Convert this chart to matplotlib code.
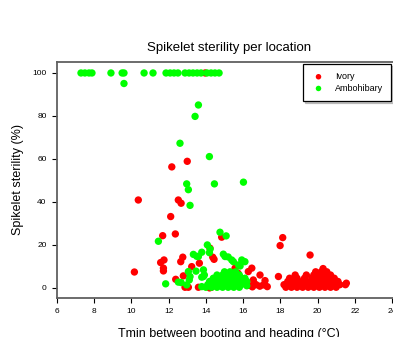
"""
plot.py
Spikelet sterility vs Tmin between booting and heading, two locations
"""

import matplotlib
matplotlib.use("Agg")
import matplotlib.pyplot as plt

# ------------------ DATA ------------------
# Ivory (red)
ivory_x = [
    13.96,
    13.0, 12.17, 10.37, 12.52, 12.67, 12.11, 11.68, 12.36, 14.85, 14.22,
    14.37, 14.44, 11.57, 11.75, 11.72, 11.72, 10.16, 12.38, 12.65, 12.76,
    13.24, 13.65, 12.79, 12.88, 13.06, 12.97, 13.6, 14.2, 14.3, 15.57,
    15.73, 16.28, 16.47, 16.55, 16.91, 17.18, 17.9, 18.13, 17.99, 19.6,
    16.3, 16.5, 16.7, 16.9, 17.1, 17.3, 16.6,
    18.3, 18.6, 18.9, 19.2, 19.5, 19.8, 20.1, 20.4, 20.7, 21.0,
    18.2, 18.5, 18.8, 19.1, 19.4, 19.7, 20.0, 20.3, 20.6, 20.9, 21.2, 21.5,
    18.4, 18.7, 19.0, 19.3, 19.6, 19.9, 20.2, 20.5, 20.8, 21.1,
    18.5, 18.9, 19.3, 19.7, 20.0, 20.3, 20.6, 20.9,
    18.8, 19.4, 19.8, 20.1, 20.4, 20.7,
    19.9, 20.2, 20.5,
    20.3, 21.55,
]
ivory_y = [
    100,
    58.9, 56.3, 40.9, 40.9, 39.4, 33.2, 24.3, 25.1, 23.6, 18.5,
    14.3, 13.3, 11.8, 13.0, 9.2, 7.9, 7.4, 4.0, 12.2, 14.3,
    9.9, 11.5, 5.6, 0.3, 0.3, 0.8, 0.3, 0.0, 0.3, 9.2,
    6.8, 7.6, 9.2, 3.7, 6.0, 3.4, 5.3, 23.4, 19.7, 15.3,
    1.2, 0.5, 1.5, 0.8, 1.4, 0.6, 2.0,
    0.3, 0.3, 0.3, 0.3, 0.3, 0.3, 0.3, 0.3, 0.3, 0.3,
    1.5, 1.5, 1.5, 1.5, 1.5, 1.5, 1.5, 1.5, 1.5, 1.5, 1.5, 1.5,
    3.0, 3.0, 3.0, 3.0, 3.0, 3.0, 3.0, 3.0, 3.0, 3.0,
    4.5, 4.5, 4.5, 4.5, 4.5, 4.5, 4.5, 4.5,
    6.0, 6.0, 6.0, 6.0, 6.0, 6.0,
    7.5, 7.5, 7.5,
    9.0, 2.2,
]

# Ambohibary (green)
ambo_x = [
    7.29, 7.5, 7.72, 7.88, 8.9, 9.5, 9.6, 10.68, 11.16, 11.86, 12.08,
    12.29, 12.5, 12.88, 13.1, 13.31, 13.53, 13.74, 14.06, 14.28, 14.49, 14.71,
    9.6,
    13.6, 13.42, 12.61, 14.19, 12.97, 14.46, 13.06, 13.15, 16.02, 14.76,
    15.09, 11.45, 14.08, 14.23, 13.78, 14.19, 13.33, 13.51, 13.6, 14.94,
    15.03, 15.2, 15.39, 15.48, 15.93, 16.1, 15.84, 15.75, 13.06, 13.47,
    13.87, 13.92, 11.84, 12.52, 12.67, 13.11, 13.15, 13.78, 13.87, 13.78,
    12.97,
    14.0, 14.3, 14.6, 14.9, 15.2, 15.5, 15.8,
    14.1, 14.4, 14.7, 15.0, 15.3, 15.6, 15.9,
    14.2, 14.5, 14.8, 15.1, 15.4, 15.7, 16.0, 16.2,
    14.4, 14.7, 15.0, 15.3, 15.6, 15.9, 16.1,
    14.6, 14.9, 15.2, 15.5, 15.8,
    15.0, 15.3, 15.6,
    16.2, 14.67,
]
ambo_y = [
    100, 100, 100, 100, 100, 100, 100, 100, 100, 100, 100,
    100, 100, 100, 100, 100, 100, 100, 100, 100, 100, 100,
    95.1,
    85.1, 79.8, 67.3, 61.1, 48.4, 48.4, 45.7, 38.4, 49.2, 25.9,
    24.2, 21.7, 20.0, 18.1, 16.6, 16.4, 15.6, 14.7, 14.6, 15.7,
    14.6, 14.4, 13.0, 12.2, 13.0, 12.2, 10.2, 10.7, 7.6, 7.8,
    8.4, 6.0, 1.9, 2.7, 2.5, 3.7, 5.3, 5.0, 5.3, 0.6,
    1.4,
    0.3, 0.3, 0.3, 0.3, 0.3, 0.3, 0.3,
    1.5, 1.5, 1.5, 1.5, 1.5, 1.5, 1.5,
    3.0, 3.0, 3.0, 3.0, 3.0, 3.0, 3.0, 3.0,
    4.5, 4.5, 4.5, 4.5, 4.5, 4.5, 4.5,
    6.0, 6.0, 6.0, 6.0, 6.0,
    7.5, 7.5, 7.5,
    1.0, 2.2,
]

x_ticks = [6, 8, 10, 12, 14, 16, 18, 20, 22, 24]
y_ticks = [0, 20, 40, 60, 80, 100]

# ------------------ PLOT ------------------
plt.rcParams["font.family"] = ["Liberation Sans", "DejaVu Sans"]

fig = plt.figure(figsize=(3.93, 3.37), dpi=100)
# axes run a little past the right edge of the picture (no right spine visible)
ax = fig.add_axes([0.145, 0.116, 0.876, 0.700])

ax.scatter(ivory_x, ivory_y, s=28, color="#ff0000", edgecolors="none", label="Ivory", zorder=2)
ax.scatter(ambo_x, ambo_y, s=28, color="#00ff00", edgecolors="none", label="Ambohibary", zorder=3)

ax.set_xlim(6, 24.5)
ax.set_ylim(-4.65, 105.1)
ax.set_xticks(x_ticks)
ax.set_yticks(y_ticks)
ax.tick_params(labelsize=6, length=3.5, width=0.8, direction="out", pad=4)

for side in ["left", "top", "bottom"]:
    ax.spines[side].set_color("#606060")
    ax.spines[side].set_linewidth(1.3)
ax.spines["right"].set_visible(False)

ax.set_xlabel("Tmin between booting and heading (°C)", fontsize=9, labelpad=9)
ax.set_ylabel("Spikelet sterility (%)", fontsize=9, labelpad=6)
ax.set_title("Spikelet sterility per location", fontsize=9.5, pad=8)

leg = ax.legend(loc="upper right", bbox_to_anchor=(391 / 393, 1 - 64 / 337),
                bbox_transform=fig.transFigure, borderaxespad=0, fontsize=6.5,
                frameon=True, fancybox=False,
                shadow={"ox": 1.2, "oy": -1.2, "color": "#909090"},
                handletextpad=1.0, handlelength=1.6, markerscale=0.75,
                borderpad=0.9, labelspacing=0.3)
leg.get_frame().set_edgecolor("black")
leg.get_frame().set_linewidth(0.9)

fig.savefig("out.png", dpi=100)
